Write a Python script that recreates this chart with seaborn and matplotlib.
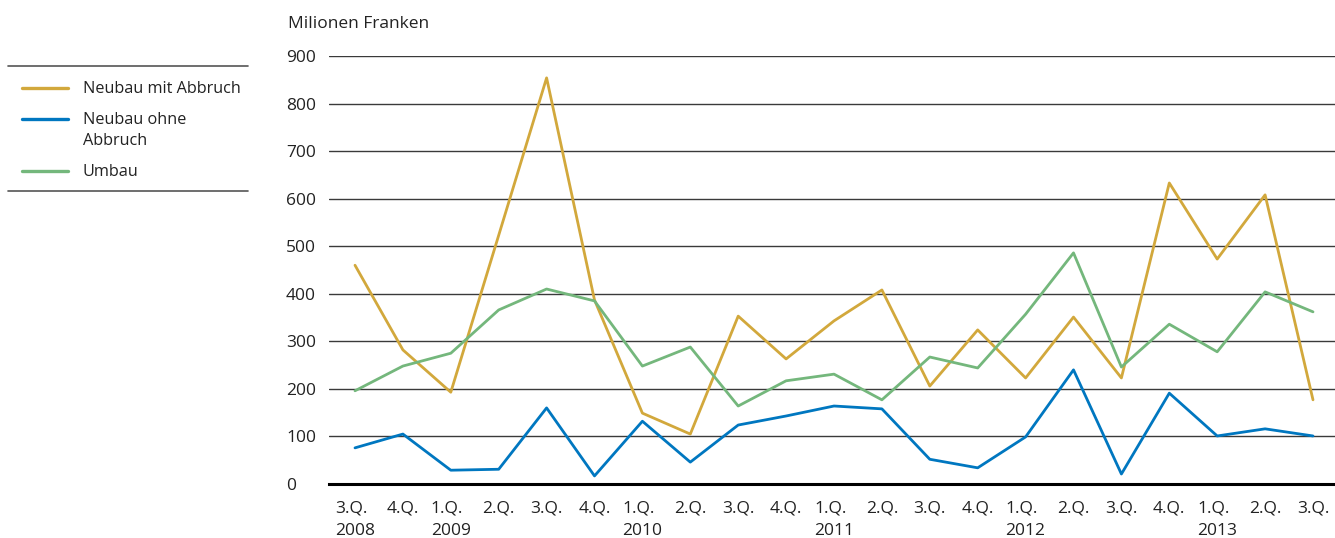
import pandas as pd
import numpy as np
import matplotlib
matplotlib.use("Agg")
import matplotlib.pyplot as plt
from matplotlib.lines import Line2D
import seaborn as sns

sns.set_theme(style="white")
plt.rcParams["font.family"] = ["Open Sans", "DejaVu Sans"]

# ── DATA
quarters = ["3.Q.", "4.Q.", "1.Q.", "2.Q.", "3.Q.", "4.Q.", "1.Q.", "2.Q.", "3.Q.", "4.Q.",
            "1.Q.", "2.Q.", "3.Q.", "4.Q.", "1.Q.", "2.Q.", "3.Q.", "4.Q.", "1.Q.", "2.Q.", "3.Q."]
years = ["2008", "", "2009", "", "", "", "2010", "", "", "",
         "2011", "", "", "", "2012", "", "", "", "2013", "", ""]
neubau_mit = [460, 282, 193, 523, 854, 387, 149, 105, 353, 263,
              343, 408, 206, 324, 223, 351, 223, 633, 473, 608, 177]
neubau_ohne = [76, 105, 29, 31, 160, 17, 132, 46, 124, 143,
               164, 158, 52, 34, 99, 240, 21, 191, 101, 116, 101]
umbau = [196, 248, 275, 366, 410, 385, 248, 288, 164, 217,
         231, 177, 267, 244, 357, 486, 246, 336, 278, 404, 362]
series = ["Neubau mit Abbruch", "Neubau ohne Abbruch", "Umbau"]
legend_labels = ["Neubau mit Abbruch", "Neubau ohne\nAbbruch", "Umbau"]
colors = ["#D2A83C", "#0077C0", "#74B77C"]

idx = np.arange(len(quarters))
df = pd.DataFrame({"t": np.tile(idx, 3),
                   "wert": neubau_mit + neubau_ohne + umbau,
                   "serie": np.repeat(series, len(idx))})

W, H = 1335, 538
TXT = "#222222"
fig = plt.figure(figsize=(W / 100, H / 100), dpi=100)
ax = fig.add_axes([329 / W, 1 - 484 / H, (W - 329) / W, (484 - 56) / H])

sns.lineplot(data=df, x="t", y="wert", hue="serie", palette=dict(zip(series, colors)),
             linewidth=2.0, ax=ax, legend=False)

ax.set_xlim(-(355 - 329) / 47.9, 20 + (W - 1313) / 47.9)
ax.set_ylim(0, 900)
ax.set_yticks(range(0, 1000, 100))
for y in range(100, 1000, 100):
    ax.axhline(y, color="#3a3a3a", lw=1.0, zorder=0)
for s in ["top", "right", "left"]:
    ax.spines[s].set_visible(False)
ax.spines["bottom"].set_color("black")
ax.spines["bottom"].set_linewidth(2.2)

ax.set_xticks(idx)
ax.set_xticklabels([q + "\n" + y if y else q for q, y in zip(quarters, years)],
                   multialignment="left", fontsize=12.5, color=TXT, linespacing=1.5)
for lab in ax.get_xticklabels():
    lab.set_horizontalalignment("center")
ax.tick_params(axis="x", length=0, pad=12)
ax.tick_params(axis="y", length=0, pad=31, labelsize=12.5, labelcolor=TXT)
for lab in ax.get_yticklabels():
    lab.set_horizontalalignment("left")
ax.set_xlabel(""); ax.set_ylabel("")

fig.text(288 / W, 1 - 24 / H, "Milionen Franken", fontsize=12.5, color=TXT, va="center", ha="left")

# legend drawn by hand: handle aligned with first text line
handle_y = [88, 119, 171]
for lab, c, yy in zip(legend_labels, colors, handle_y):
    fig.add_artist(Line2D([22 / W, 68 / W], [1 - yy / H, 1 - yy / H], color=c, lw=2.4))
    nlines = lab.count("\n") + 1
    yc = yy + (nlines - 1) * 21 / 2 + 1
    fig.text(83 / W, 1 - yc / H, lab, fontsize=11.7, color=TXT, va="center", ha="left",
             linespacing=1.35)
for yy in (66, 191):
    fig.add_artist(Line2D([8 / W, 248 / W], [1 - yy / H, 1 - yy / H], color="#555555", lw=1.2))

fig.savefig("out.png", dpi=100)
